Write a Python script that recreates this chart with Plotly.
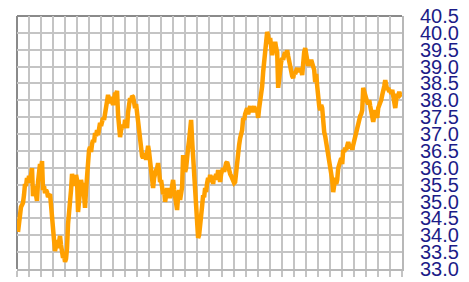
import plotly.graph_objects as go

# Price series (one value per trading day)
values = [
    34.10, 34.39, 34.75, 34.84, 34.90, 34.96, 35.19, 35.52, 35.46, 35.70,
    35.55, 35.76, 35.58, 35.79, 35.99, 35.16, 35.34, 35.46, 35.19, 35.02,
    35.58, 35.88, 36.11, 35.93, 36.20, 35.34, 35.46, 35.25, 35.34, 35.28,
    35.13, 35.19, 35.22, 34.90, 34.42, 34.07, 33.86, 33.53, 33.74, 33.86,
    33.62, 33.80, 33.98, 33.71, 33.53, 33.33, 33.42, 33.21, 33.30, 33.62,
    34.33, 34.60, 34.81, 35.34, 35.82, 35.61, 35.70, 35.46, 35.79, 35.64,
    34.69, 35.16, 35.52, 35.64, 35.46, 35.55, 35.19, 34.81, 35.34, 35.93,
    36.47, 36.53, 36.62, 36.47, 36.71, 36.82, 36.76, 37.03, 36.94, 37.12,
    36.97, 37.18, 37.33, 37.24, 37.36, 37.48, 37.42, 37.65, 37.86, 38.01,
    38.16, 38.04, 38.10, 37.92, 37.98, 37.86, 38.10, 38.22, 38.19, 38.28,
    37.57, 37.12, 36.91, 37.12, 37.18, 37.27, 37.18, 37.42, 37.30, 37.18,
    37.65, 37.86, 38.07, 37.95, 38.13, 38.10, 37.92, 37.77, 37.89, 37.65,
    37.27, 36.91, 36.68, 36.53, 36.35, 36.29, 36.38, 36.44, 36.23, 36.47,
    36.65, 36.47, 36.17, 35.99, 35.88, 35.40, 35.70, 35.88, 35.93, 35.99,
    36.14, 35.88, 35.58, 35.64, 35.34, 35.22, 35.34, 34.99, 35.19, 35.40,
    35.16, 35.34, 35.10, 35.28, 35.49, 35.64, 35.34, 35.10, 34.87, 34.75,
    35.16, 35.34, 35.05, 35.22, 35.43, 36.38, 36.17, 35.88, 35.99, 36.47,
    36.59, 36.82, 37.18, 37.42, 36.82, 36.29, 35.88, 35.49, 34.90, 34.30,
    33.92, 34.01, 34.45, 34.69, 34.87, 35.19, 35.13, 35.40, 35.28, 35.55,
    35.70, 35.58, 35.79, 35.64, 35.70, 35.52, 35.76, 35.64, 35.82, 35.70,
    35.93, 35.76, 35.58, 35.82, 35.93, 35.99, 35.88, 36.05, 36.14, 36.17,
    35.99, 35.93, 35.82, 35.76, 35.70, 35.64, 35.55, 35.58, 35.93, 36.29,
    36.53, 36.68, 36.88, 36.97, 37.12, 37.48, 37.42, 37.59, 37.65, 37.77,
    37.59, 37.71, 37.83, 37.65, 37.77, 37.71, 37.83, 37.65, 37.77, 37.71,
    37.48, 37.77, 37.95, 38.25, 38.42, 38.84, 39.14, 39.43, 39.79, 40.03,
    39.91, 39.67, 39.85, 39.64, 39.34, 39.49, 39.61, 39.73, 39.55, 39.43,
    38.37, 38.66, 39.02, 39.14, 39.25, 39.20, 39.34, 39.43, 39.31, 39.49,
    39.31, 39.14, 38.90, 38.84, 38.72, 38.66, 38.84, 38.78, 38.90, 38.96,
    38.84, 38.96, 38.84, 38.90, 38.75, 39.20, 39.43, 39.55, 39.31, 39.11,
    39.02, 39.14, 39.08, 39.20, 39.11, 39.02, 38.90, 38.54, 38.78, 38.42,
    38.01, 37.83, 37.71, 37.86, 37.77, 37.18, 37.06, 36.94, 36.76, 36.62,
    36.47, 36.29, 36.11, 35.88, 35.64, 35.28, 35.49, 35.70, 35.52, 35.64,
    35.99, 36.08, 36.17, 36.29, 36.11, 36.53, 36.47, 36.59, 36.53, 36.68,
    36.76, 36.65, 36.59, 36.68, 36.53, 36.68, 36.82, 36.91, 37.03, 37.24,
    37.33, 37.42, 37.54, 37.59, 37.71, 38.37, 38.25, 38.10, 38.01, 37.95,
    37.89, 38.01, 37.83, 37.65, 37.54, 37.36, 37.54, 37.71, 37.59, 37.48,
    37.77, 37.83, 37.89, 38.01, 38.16, 38.25, 38.42, 38.60, 38.42, 38.31,
    38.37, 38.25, 38.31, 38.19, 38.31, 38.07, 37.89, 37.77, 38.01, 38.19,
    38.13, 38.25, 38.16, 38.19,
]
days = list(range(len(values)))

y_min, y_max, y_step = 33.0, 40.5, 0.5
n_cols = 32
x_lo, x_hi = -1.0, 383.7
col_step = (x_hi - x_lo) / n_cols

grid_col = "#c4c4c4"
border_col = "#8a8a8a"
label_col = "#1c1c88"

fig = go.Figure(go.Scatter(
    x=days, y=values, mode="lines",
    line=dict(color="#FFA000", width=4.5),
    hoverinfo="skip",
))

fig.update_layout(
    width=469, height=282,
    margin=dict(l=17, r=67, t=16, b=13, autoexpand=False),
    paper_bgcolor="white", plot_bgcolor="white",
    showlegend=False,
    xaxis=dict(
        range=[x_lo, x_hi + 0.05], tick0=x_lo, dtick=col_step,
        showgrid=True, gridcolor=grid_col, gridwidth=2,
        showticklabels=False, ticks="outside", ticklen=6,
        tickcolor=grid_col, tickwidth=2,
        showline=True, linecolor="#b8b8b8", linewidth=2,
        zeroline=False, automargin=False,
    ),
    yaxis=dict(
        side="right", range=[y_min, y_max], tick0=y_min, dtick=y_step,
        tickformat=".1f", showgrid=True, gridcolor=grid_col, gridwidth=2,
        ticks="", ticklabelstandoff=12,
        tickfont=dict(family="Liberation Sans, Arial, sans-serif", size=20, color=label_col),
        showline=True, linecolor="#b8b8b8", linewidth=2,
        zeroline=False, automargin=False,
    ),
    shapes=[
        dict(type="line", xref="paper", yref="paper", x0=0, x1=1, y0=1, y1=1,
             line=dict(color=border_col, width=2), layer="below"),
        dict(type="line", xref="paper", yref="paper", x0=0, x1=0, y0=0, y1=1,
             line=dict(color=border_col, width=2), layer="below"),
    ],
)

fig.write_html(
    "out.html",
    config={"displayModeBar": False},
    post_script="document.body.style.margin='0';document.body.style.overflow='hidden';",
)
